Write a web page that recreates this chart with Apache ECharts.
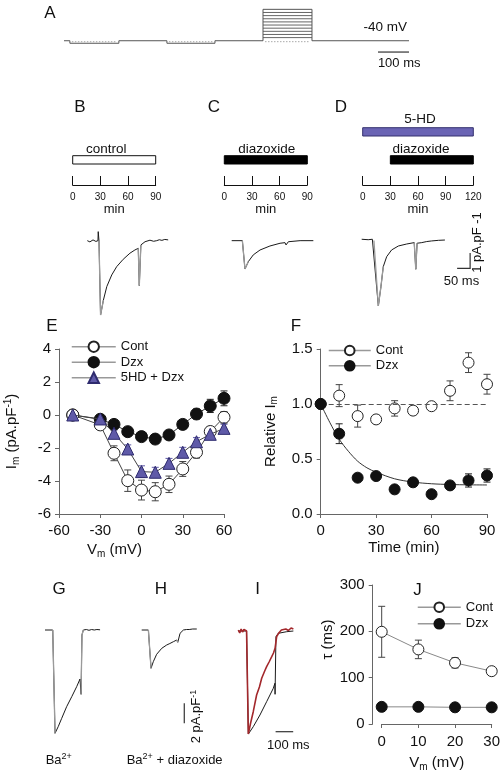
<!DOCTYPE html>
<html><head><meta charset="utf-8">
<script src="https://cdn.jsdelivr.net/npm/echarts@6/dist/echarts.min.js"></script>
<style>html,body{margin:0;padding:0;background:#fff}#c{width:502px;height:775px}</style>
</head><body><div id="c"></div>
<script>
// ===== DATA =====
// Panel A: voltage protocol (ms, mV)
const protoBase = [[0,-40],[19,-40],[19,-48],[177,-48],[177,-40],[332,-40],[332,-48],[487,-48],[487,-40],[642,-40],[642,60],[800,60],[800,-40],[1113,-40]];
const pulseWindow = [642, 800];
const pulseLevels = [-30,-20,-10,0,10,20,30,40,50];
const dottedWindows = [[19,177],[332,487],[642,800]];
const dottedLevel = -43;
// Panels B-D: drug timelines (min)
const tlControl = [[0,90]];
const tlDzxC = [[0,90]];
const tl5HD = [[0,120]];
const tlDzxD = [[30,120]];
// Panels B-D current traces (ms, pA/pF)
const traceB = [[0,0],[10,-0.08],[22,0.05],[33,-0.05],[41,0],[42,0.59],[45,-0.02],[51,-4.86],[62,-3.88],[75,-3.0],[94,-2.24],[113,-1.7],[138,-1.22],[164,-0.82],[183,-0.61],[196,-0.5],[200,-2.94],[206,-0.28],[222,-0.07],[241,0.03],[255,-0.04],[267,0],[277,0.06],[287,0.02],[298,0.08],[311,0.05]];
const traceC = [[0,0],[41,0],[51,-1.85],[64,-1.37],[83,-0.93],[109,-0.61],[147,-0.35],[186,-0.17],[205,-0.13],[209,-0.28],[218,-0.07],[263,0],[314,0]];
const traceD = [[0,0],[25,-0.03],[41,0],[47,-0.08],[64,-4.36],[74,-3.1],[83,-1.79],[96,-1.14],[115,-0.7],[141,-0.44],[173,-0.31],[202,-0.22],[208,-1.96],[213,-0.26],[231,-0.22],[250,-0.15],[269,-0.11],[295,-0.07],[320,-0.05]];
// Panels G-I current traces (ms, pA/pF)
const traceG = [[0,0],[44,0],[57,-10.33],[75,-9.67],[95,-8.83],[123,-7.67],[152,-6.67],[180,-5.67],[199,-4.9],[205,-6.43],[210,-0.5],[218,0],[235,0.05],[250,-0.03],[265,0.05],[280,0],[295,0.05],[313,0.02]];
const traceH = [[0,0],[38,0],[53,-3.83],[66,-3.17],[85,-2.43],[114,-1.83],[142,-1.5],[160,-1.35],[180,-1.17],[199,-1.0],[205,-1.23],[218,-0.33],[237,0],[255,0.05],[270,0.05],[290,0.1],[313,0.1]];
const traceIred = [[0,0.1],[8,-0.2],[16,0.2],[24,-0.1],[32,0.15],[40,0.35],[47,0],[57,-10.3],[70,-9.2],[85,-8.07],[104,-6.4],[120,-5.6],[133,-4.73],[150,-4.0],[161,-3.57],[175,-3.1],[190,-2.57],[200,-2.2],[209,-1.73],[218,-0.57],[230,-0.2],[245,0.1],[256,-0.07],[270,0.2],[285,0.05],[300,0.3],[313,0.2]];
const traceIblack = [[0,0],[47,0],[57,-10.3],[85,-9.57],[123,-8.4],[161,-7.07],[199,-5.73],[208,-5.23],[209,-6.33],[214,-0.57],[227,-0.23],[275,-0.07],[313,0]];
// index ranges of each trace drawn in grey (fast activation / tail segments)
const greyB = [[6,9],[15,18]];
const greyC = [[1,4]];
const greyD = [[3,7],[11,14]];
const greyG = [[1,3],[9,12]];
const greyH = [[1,3],[9,11]];
// Panel E: I-V
const eV = [-50,-30,-20,-10,0,10,20,30,40,50,60];
const eCont = [0,-0.6,-2.32,-3.98,-4.55,-4.65,-4.2,-3.27,-2.26,-1.0,-0.14];
const eContErr = [0.1,0.15,0.45,0.65,0.6,0.55,0.5,0.45,0.35,0.25,0.35];
const eDzx = [0,-0.26,-0.57,-1.01,-1.31,-1.46,-1.21,-0.57,0.06,0.55,1.01];
const eDzxErr = [0.05,0.1,0.15,0.2,0.2,0.2,0.2,0.2,0.3,0.4,0.45];
const e5hd = [0,-0.24,-1.11,-2.06,-3.43,-3.47,-2.93,-2.26,-1.62,-1.17,-0.81];
const e5hdErr = [0.05,0.1,0.2,0.25,0.35,0.3,0.3,0.3,0.25,0.2,0.25];
// Panel F: time course
const fT = [0,10,20,30,40,50,60,70,80,90];
const fCont = [1.0,1.076,0.89,0.86,0.96,0.94,0.98,1.12,1.376,1.18];
const fContErr = [0,0.1,0.1,0.03,0.07,0.03,0.03,0.09,0.09,0.09];
const fDzx = [1.0,0.73,0.33,0.345,0.224,0.288,0.18,0.26,0.305,0.35];
const fDzxErr = [0,0.09,0.03,0.03,0.03,0.03,0.03,0.03,0.06,0.06];
const fFitT = [0,5,10,15,20,25,30,40,50,60,70,80,90];
const fFit = [1.0,0.83,0.68,0.57,0.48,0.42,0.38,0.32,0.29,0.275,0.268,0.265,0.264];
// Panel J: tau
const jV = [0,10,20,30];
const jCont = [199,161,132,114];
const jContErr = [55,20,11,8];
const jDzx = [37,37,36,36];
// scale bar sizes
const sbA_ms = 100;
const sbBCD = [50, 1];
const sbGHI = [100, 2];

// ===== CHART =====
const FONT = '"Liberation Sans", Arial, Helvetica, sans-serif';
const DARK = '#1a1a1a', GRAY = '#9a9a9a', AX = '#666';
const grids = [], xAxes = [], yAxes = [], series = [];
function addGrid(g, xa, ya) {
  grids.push(Object.assign({containLabel:false, outerBoundsMode:'none'}, g));
  const i = grids.length - 1;
  xAxes.push(Object.assign({gridIndex:i, type:'value'}, xa));
  yAxes.push(Object.assign({gridIndex:i, type:'value'}, ya));
  return i;
}
const hid = (min, max) => ({show:false, min, max});
function addSeries(s) { series.push(s); return series.length - 1; }
function traceSeries(gi, data, color, width, z) {
  return addSeries({type:'line', xAxisIndex:gi, yAxisIndex:gi, data, showSymbol:false, symbol:'none',
    lineStyle:{color, width:width||1}, silent:true, z:z||2});
}
function greyOverlay(gi, data, ranges) {
  ranges.forEach(([a,b]) => traceSeries(gi, data.slice(a, b), GRAY, 1.3, 3));
}

// ---- Panel A ----
const gA = addGrid({left:64, top:6.2, width:345, height:47.1}, hid(0,1113), hid(-80,70));
addSeries({type:'line', xAxisIndex:gA, yAxisIndex:gA, data:protoBase, symbol:'none', lineStyle:{color:'#555', width:1}, silent:true});
addSeries({type:'custom', xAxisIndex:gA, yAxisIndex:gA, silent:true, data:pulseLevels.map(v => [pulseWindow[0], v, pulseWindow[1]]),
  renderItem(p, api){ const a = api.coord([api.value(0), api.value(1)]), b = api.coord([api.value(2), api.value(1)]);
    return {type:'line', shape:{x1:a[0], y1:a[1], x2:b[0], y2:b[1]}, style:{stroke:'#555', lineWidth:0.9}}; }});
addSeries({type:'custom', xAxisIndex:gA, yAxisIndex:gA, silent:true, data:dottedWindows.map(w => [w[0], dottedLevel, w[1]]),
  renderItem(p, api){ const a = api.coord([api.value(0), api.value(1)]), b = api.coord([api.value(2), api.value(1)]);
    return {type:'line', shape:{x1:a[0]+2, y1:a[1], x2:b[0]-2, y2:b[1]}, style:{stroke:'#aaa', lineWidth:1, lineDash:[1.5,1.5]}}; }});
addSeries({type:'custom', xAxisIndex:gA, yAxisIndex:gA, silent:true, data:[[sbA_ms, 0]],
  renderItem(p, api){ const a = api.coord([1113 - api.value(0), -76]), b = api.coord([1113, -76]);
    return {type:'line', shape:{x1:a[0], y1:a[1], x2:b[0], y2:b[1]}, style:{stroke:'#333', lineWidth:1.2}}; }});

// ---- Panels B-D timelines ----
const tlX = (max) => ({min:0, max, interval:30,
  axisLine:{onZero:false, lineStyle:{color:'#111', width:1}},
  axisTick:{inside:true, length:9, lineStyle:{color:'#111'}},
  axisLabel:{fontSize:10, margin:7, color:'#111', fontFamily:FONT},
  splitLine:{show:false}, name:'min', nameLocation:'middle', nameGap:17,
  nameTextStyle:{fontSize:13, color:'#111', fontFamily:FONT}});
const gTB = addGrid({left:72.7, top:120, width:83, height:65}, tlX(90), hid(0,1));
const gTC = addGrid({left:224.3, top:120, width:83, height:65}, tlX(90), hid(0,1));
const gTD = addGrid({left:362.7, top:120, width:110.6, height:65}, tlX(120), hid(0,1));
function barSeries(gi, data, fill, stroke, topOff, h) {
  addSeries({type:'custom', xAxisIndex:gi, yAxisIndex:gi, data, silent:true,
    renderItem(p, api){ const a = api.coord([api.value(0), 0]), b = api.coord([api.value(1), 0]);
      return {type:'rect', shape:{x:a[0], y:a[1]-topOff, width:b[0]-a[0], height:h}, style:{fill, stroke, lineWidth:1}}; }});
}
barSeries(gTB, tlControl, '#fff', '#111', 29.3, 8.3);
barSeries(gTC, tlDzxC, '#000', '#000', 29.3, 8.3);
barSeries(gTD, tlDzxD, '#000', '#000', 29.3, 8.3);
barSeries(gTD, tl5HD, '#6a64b4', '#34306e', 57.3, 8.3);

// ---- Panels B-D traces ----
const gRB = addGrid({left:87.3, top:222.3, width:83.2, height:102.5}, hid(0,320), hid(-5.5,1.2));
const gRC = addGrid({left:231.7, top:222.3, width:83.2, height:102.5}, hid(0,320), hid(-5.5,1.2));
const gRD = addGrid({left:361.7, top:220.9, width:111.8, height:102.5}, hid(0,430), hid(-5.5,1.2));
traceSeries(gRB, traceB, DARK); greyOverlay(gRB, traceB, greyB);
traceSeries(gRC, traceC, DARK); greyOverlay(gRC, traceC, greyC);
traceSeries(gRD, traceD, DARK); greyOverlay(gRD, traceD, greyD);
addSeries({type:'custom', xAxisIndex:gRD, yAxisIndex:gRD, silent:true, data:[sbBCD],
  renderItem(p, api){ const c = api.coord([417,-1.9]), l = api.coord([417-api.value(0),-1.9]), t = api.coord([417,-1.9+api.value(1)]);
    return {type:'polyline', shape:{points:[l, c, t]}, style:{stroke:'#333', lineWidth:1.2, fill:null}}; }});

// ---- Axis helpers for data panels ----
const axStyle = {axisLine:{onZero:false, lineStyle:{color:AX, width:1}}, axisTick:{length:4, lineStyle:{color:AX}}, splitLine:{show:false}};
const rich = {n:{fontSize:15, lineHeight:18, fontFamily:FONT, color:'#111'}, s:{fontSize:10, lineHeight:10, verticalAlign:'bottom', fontFamily:FONT, color:'#111'}, p:{fontSize:10, lineHeight:10, verticalAlign:'top', fontFamily:FONT, color:'#111'}};
const lab = (m) => ({fontSize:15, color:'#111', fontFamily:FONT, margin:m});

// ---- Panel E ----
const gE = addGrid({left:59, top:349, width:165, height:165},
  Object.assign({min:-60, max:60, interval:30, axisLabel:lab(9), name:'{n|V}{s|m}{n| (mV)}', nameLocation:'middle', nameGap:27,
    nameTextStyle:{rich, padding:[0,54,0,0]}}, axStyle),
  Object.assign({min:-6, max:4, interval:2, axisLabel:lab(8), name:'{n|I}{s|m}{n| (pA.pF}{p|-1}{n|)}', nameLocation:'middle', nameGap:38,
    nameTextStyle:{rich}}, axStyle));
function errSeries(gi, xs, ys, es, color, cap) {
  addSeries({type:'custom', xAxisIndex:gi, yAxisIndex:gi, silent:true, z:1, data:xs.map((x,i) => [x, ys[i], es[i]]),
    renderItem(p, api){ const x = api.value(0), y = api.value(1), e = api.value(2);
      const t = api.coord([x, y+e]), b = api.coord([x, y-e]);
      const st = {stroke:color, lineWidth:1};
      return {type:'group', children:[
        {type:'line', shape:{x1:t[0], y1:t[1], x2:b[0], y2:b[1]}, style:st},
        {type:'line', shape:{x1:t[0]-cap, y1:t[1], x2:t[0]+cap, y2:t[1]}, style:st},
        {type:'line', shape:{x1:b[0]-cap, y1:b[1], x2:b[0]+cap, y2:b[1]}, style:st}]}; }});
}
const PURPLE = '#5f5aa8', PURPLE_D = '#2e2b6e';
errSeries(gE, eV, eDzx, eDzxErr, '#222', 3.5);
errSeries(gE, eV, eCont, eContErr, '#444', 3.5);
errSeries(gE, eV, e5hd, e5hdErr, PURPLE, 3.5);
const openSym = {color:'#fff', borderColor:'#222', borderWidth:1};
const fillSym = {color:'#111', borderColor:'#111', borderWidth:1};
addSeries({name:'Dzx', type:'line', xAxisIndex:gE, yAxisIndex:gE, data:eV.map((v,i)=>[v,eDzx[i]]), symbol:'circle', symbolSize:12,
  itemStyle:fillSym, lineStyle:{color:'#333', width:1}, z:3, silent:true});
addSeries({name:'Cont', type:'line', xAxisIndex:gE, yAxisIndex:gE, data:eV.map((v,i)=>[v,eCont[i]]), symbol:'circle', symbolSize:12,
  itemStyle:openSym, lineStyle:{color:'#444', width:1}, z:4, silent:true});
addSeries({name:'5HD + Dzx', type:'line', xAxisIndex:gE, yAxisIndex:gE, data:eV.map((v,i)=>[v,e5hd[i]]), symbol:'triangle', symbolSize:12,
  itemStyle:{color:PURPLE, borderColor:PURPLE_D, borderWidth:1}, lineStyle:{color:'#444', width:1}, z:5, silent:true});

// ---- Panel F ----
const gF = addGrid({left:320.7, top:349, width:166.3, height:165},
  Object.assign({min:0, max:90, interval:30, axisLabel:lab(9), name:'Time (min)', nameLocation:'middle', nameGap:26,
    nameTextStyle:{fontSize:15, color:'#111', fontFamily:FONT}}, axStyle),
  Object.assign({min:0, max:1.5, interval:0.5, axisLabel:Object.assign(lab(8), {formatter:v => v.toFixed(1)}), name:'{n|Relative I}{s|m}',
    nameLocation:'middle', nameGap:41, nameTextStyle:{rich}}, axStyle));
addSeries({type:'line', xAxisIndex:gF, yAxisIndex:gF, data:fFitT.map((t,i)=>[t,fFit[i]]), symbol:'none', smooth:0.3,
  lineStyle:{color:'#333', width:1}, z:2, silent:true,
  markLine:{silent:true, symbol:'none', label:{show:false}, lineStyle:{type:[5,3], color:'#555', width:1}, data:[{yAxis:1}]}});
errSeries(gF, fT, fCont, fContErr, '#444', 3.5);
errSeries(gF, fT, fDzx, fDzxErr, '#222', 3.5);
addSeries({name:'Cont', type:'line', xAxisIndex:gF, yAxisIndex:gF, data:fT.map((t,i)=>[t,fCont[i]]), symbol:'circle', symbolSize:11,
  itemStyle:openSym, lineStyle:{width:0, opacity:0}, z:4, silent:true});
addSeries({name:'Dzx', type:'line', xAxisIndex:gF, yAxisIndex:gF, data:fT.map((t,i)=>[t,fDzx[i]]), symbol:'circle', symbolSize:11,
  itemStyle:fillSym, lineStyle:{width:0, opacity:0}, z:5, silent:true});

// ---- Panels G-I traces ----
const gRG = addGrid({left:45, top:620, width:56.3, height:120}, hid(0,320), hid(-11,1));
const gRH = addGrid({left:141.7, top:620, width:56.3, height:120}, hid(0,320), hid(-11,1));
const gRI = addGrid({left:238.3, top:621, width:56.3, height:120}, hid(0,320), hid(-11,1));
traceSeries(gRG, traceG, DARK); greyOverlay(gRG, traceG, greyG);
traceSeries(gRH, traceH, DARK); greyOverlay(gRH, traceH, greyH);
traceSeries(gRI, traceIblack, DARK);
traceSeries(gRI, traceIred, '#a3282c', 1.6, 3);
addSeries({type:'custom', xAxisIndex:gRH, yAxisIndex:gRH, silent:true, data:[sbGHI],
  renderItem(p, api){ const b = api.coord([242,-9.33]), t = api.coord([242,-9.33+api.value(1)]);
    return {type:'line', shape:{x1:b[0], y1:b[1], x2:t[0], y2:t[1]}, style:{stroke:'#333', lineWidth:1.2}}; }});
addSeries({type:'custom', xAxisIndex:gRI, yAxisIndex:gRI, silent:true, data:[sbGHI],
  renderItem(p, api){ const a = api.coord([212,-10.07]), b = api.coord([212+api.value(0),-10.07]);
    return {type:'line', shape:{x1:a[0], y1:a[1], x2:b[0], y2:b[1]}, style:{stroke:'#333', lineWidth:1.2}}; }});

// ---- Panel J ----
const gJ = addGrid({left:381.7, top:585, width:110, height:139},
  Object.assign({min:0, max:30, interval:10, axisLabel:lab(10), name:'{n|V}{s|m}{n| (mV)}', nameLocation:'middle', nameGap:30,
    nameTextStyle:{rich}}, axStyle),
  Object.assign({min:0, max:300, interval:100, offset:9, axisLabel:lab(8), name:'τ (ms)', nameLocation:'middle', nameGap:34,
    nameTextStyle:{fontSize:15, color:'#111', fontFamily:FONT, padding:[0,0,0,30]}}, axStyle));
errSeries(gJ, jV, jCont, jContErr, '#444', 3.5);
addSeries({name:'Dzx', type:'line', xAxisIndex:gJ, yAxisIndex:gJ, data:jV.map((v,i)=>[v,jDzx[i]]), symbol:'circle', symbolSize:11,
  itemStyle:fillSym, lineStyle:{color:'#888', width:1}, z:3, silent:true});
addSeries({name:'Cont', type:'line', xAxisIndex:gJ, yAxisIndex:gJ, data:jV.map((v,i)=>[v,jCont[i]]), symbol:'circle', symbolSize:11,
  itemStyle:openSym, lineStyle:{color:'#888', width:1}, z:4, silent:true});

// ---- Legends ----
const lg = (left, top, names, iw, ih, gap) => ({orient:'vertical', left, top, padding:0, itemWidth:iw, itemHeight:ih, itemGap:gap,
  data:names, selectedMode:false, textStyle:{fontSize:13, color:'#111', fontFamily:FONT},
  lineStyle:{color:'#999', width:1.5, opacity:1}});
const legends = [lg(71, 340.2, ['Cont','Dzx','5HD + Dzx'], 44, 13, 2.5), lg(328, 344, ['Cont','Dzx'], 42, 12, 2.3), lg(417, 600.7, ['Cont','Dzx'], 43, 12, 3.6)];

// ---- Text annotations ----
const T = (text, x, y, o) => ({type:'text', x, y, silent:true, style:Object.assign({text, fontSize:13, fontFamily:FONT, fill:'#111', align:'center', verticalAlign:'middle'}, o||{})});
const L = (t, x, y) => T(t, x, y, {fontSize:17});
const supRich = {a:{fontSize:13, lineHeight:16, fontFamily:FONT, fill:'#111'}, u:{fontSize:9, lineHeight:9, verticalAlign:'top', fontFamily:FONT, fill:'#111'}};
const graphics = [
  L('A', 50, 13), L('B', 80, 107.5), L('C', 214, 107.5), L('D', 341, 107.5), L('E', 52, 326), L('F', 296, 326),
  L('G', 59, 589), L('H', 161, 589), L('I', 257.5, 589), L('J', 417.5, 590),
  T('-40 mV', 385.3, 27, {fontSize:13.5}), T('100 ms', 399.2, 63),
  T('control', 106.3, 149, {fontSize:13.5}), T('diazoxide', 266.7, 149, {fontSize:13.5}), T('diazoxide', 421, 149, {fontSize:13.5}), T('5-HD', 420, 119, {fontSize:13.5}),
  T('50 ms', 461.5, 281.7),
  {type:'text', x:477, y:242.5, rotation:Math.PI/2, silent:true, style:{text:'1 pA.pF -1', fontSize:13, fontFamily:FONT, fill:'#111', align:'center', verticalAlign:'middle'}},
  {type:'text', x:196.7, y:716.5, rotation:Math.PI/2, silent:true, style:{text:'{a|2 pA.pF}{u|-1}', rich:supRich, align:'center', verticalAlign:'middle'}},
  T('100 ms', 288.3, 745),
  {type:'text', x:45.7, y:760, silent:true, style:{text:'{a|Ba}{u|2+}', rich:supRich, align:'left', verticalAlign:'middle'}},
  {type:'text', x:126.7, y:760, silent:true, style:{text:'{a|Ba}{u|2+}{a| + diazoxide}', rich:supRich, align:'left', verticalAlign:'middle'}}
];

const chart = echarts.init(document.getElementById('c'), null, {renderer:'canvas', width:502, height:775});
chart.setOption({
  animation:false, backgroundColor:'#fff', textStyle:{fontFamily:FONT},
  grid:grids, xAxis:xAxes, yAxis:yAxes, series, legend:legends, graphic:graphics, tooltip:{show:false}
});
</script></body></html>
